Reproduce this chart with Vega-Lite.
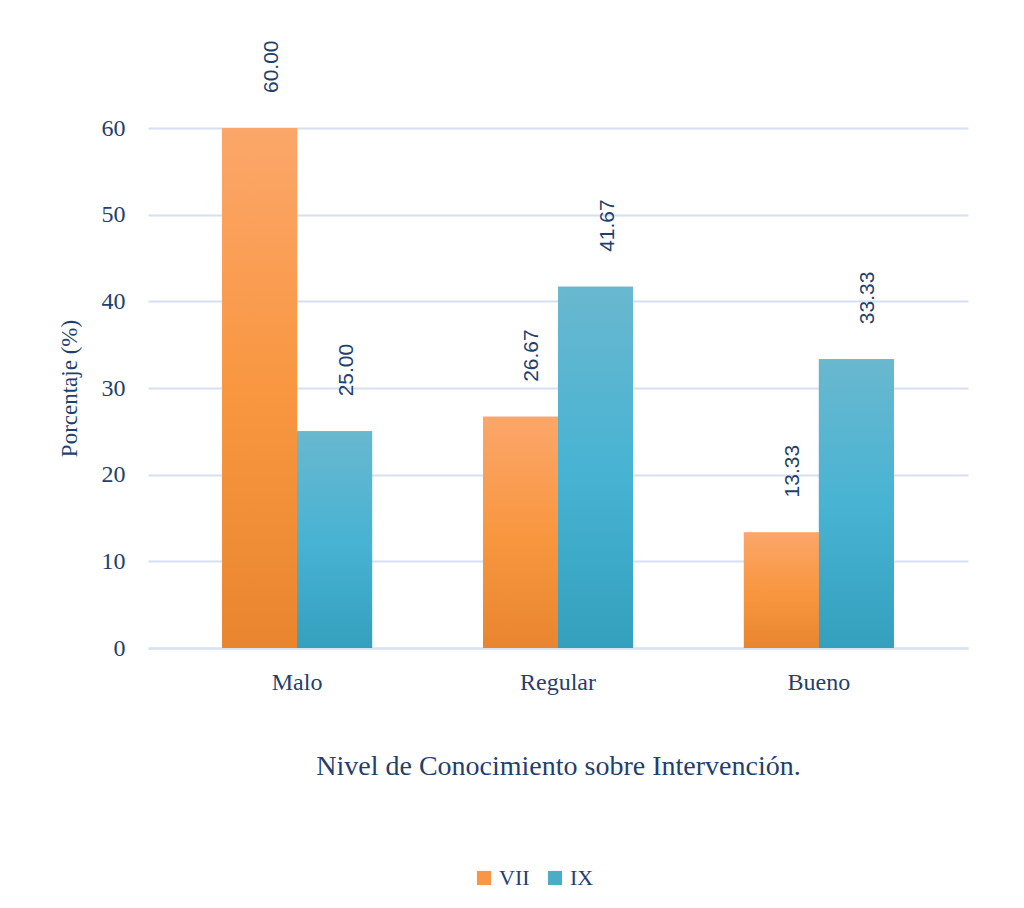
{
  "$schema": "https://vega.github.io/schema/vega-lite/v6.json",
  "width": 820,
  "height": 520,
  "autosize": {"type": "none"},
  "padding": {"left": 148, "top": 128, "right": 56, "bottom": 260},
  "background": "white",
  "config": {
    "view": {"stroke": null},
    "font": "Liberation Serif"
  },
  "data": {
    "values": [
      {"nivel": "Malo", "grupo": "VII", "pct": 60.00},
      {"nivel": "Malo", "grupo": "IX", "pct": 25.00},
      {"nivel": "Regular", "grupo": "VII", "pct": 26.67},
      {"nivel": "Regular", "grupo": "IX", "pct": 41.67},
      {"nivel": "Bueno", "grupo": "VII", "pct": 13.33},
      {"nivel": "Bueno", "grupo": "IX", "pct": 33.33}
    ]
  },
  "encoding": {
    "x": {
      "field": "nivel",
      "type": "nominal",
      "sort": ["Malo", "Regular", "Bueno"],
      "scale": {"paddingInner": 0.425, "paddingOuter": 0.284},
      "axis": {
        "title": "Nivel de Conocimiento sobre Intervención.",
        "titleFont": "Liberation Serif",
        "titleFontSize": 28,
        "titleFontWeight": "normal",
        "titleColor": "#1F3F6E",
        "titlePadding": 58,
        "labelFont": "Liberation Serif",
        "labelFontSize": 24,
        "labelColor": "#1F3F6E",
        "labelAngle": 0,
        "labelPadding": 22,
        "labelDx": -20,
        "ticks": false,
        "domainColor": "#D5E0F0",
        "domainWidth": 2
      }
    },
    "xOffset": {"field": "grupo", "sort": ["VII", "IX"]},
    "y": {
      "field": "pct",
      "type": "quantitative",
      "scale": {"domain": [0, 60]},
      "axis": {
        "title": "Porcentaje (%)",
        "titleFont": "Liberation Serif",
        "titleFontSize": 23,
        "titleFontWeight": "normal",
        "titleColor": "#1F3F6E",
        "titlePadding": 20,
        "labelFont": "Liberation Serif",
        "labelFontSize": 24,
        "labelColor": "#1F3F6E",
        "labelPadding": 23,
        "values": [0, 10, 20, 30, 40, 50, 60],
        "ticks": false,
        "domain": false,
        "grid": true,
        "gridColor": "#D5E0F0",
        "gridWidth": 2
      }
    }
  },
  "layer": [
    {
      "mark": {"type": "bar"},
      "encoding": {
        "color": {
          "field": "grupo",
          "type": "nominal",
          "sort": ["VII", "IX"],
          "scale": {"domain": ["VII", "IX"], "range": ["#F79646", "#4BACC6"]},
          "legend": {
            "title": null,
            "orient": "none",
            "legendX": 325,
            "legendY": 739,
            "direction": "horizontal",
            "symbolType": "square",
            "symbolSize": 200,
            "symbolStrokeWidth": 0,
            "labelFont": "Liberation Serif",
            "labelFontSize": 22,
            "labelColor": "#1F3F6E",
            "columnPadding": 14
          }
        }
      }
    },
    {
      "transform": [{"filter": "datum.grupo === 'VII'"}],
      "mark": {
        "type": "bar",
        "fill": {
          "gradient": "linear", "x1": 0, "y1": 0, "x2": 0, "y2": 1,
          "stops": [
            {"offset": 0, "color": "#FBA66A"},
            {"offset": 0.5, "color": "#F99741"},
            {"offset": 1, "color": "#E9852F"}
          ]
        }
      }
    },
    {
      "transform": [{"filter": "datum.grupo === 'IX'"}],
      "mark": {
        "type": "bar",
        "fill": {
          "gradient": "linear", "x1": 0, "y1": 0, "x2": 0, "y2": 1,
          "stops": [
            {"offset": 0, "color": "#69B8CF"},
            {"offset": 0.5, "color": "#48B3D3"},
            {"offset": 1, "color": "#34A0BE"}
          ]
        }
      }
    },
    {
      "mark": {
        "type": "text",
        "angle": 270,
        "align": "left",
        "baseline": "middle",
        "dx": 35,
        "dy": 12,
        "font": "Liberation Sans",
        "fontSize": 21,
        "color": "#1F3F6E"
      },
      "encoding": {
        "text": {"field": "pct", "type": "quantitative", "format": ".2f"}
      }
    }
  ]
}
